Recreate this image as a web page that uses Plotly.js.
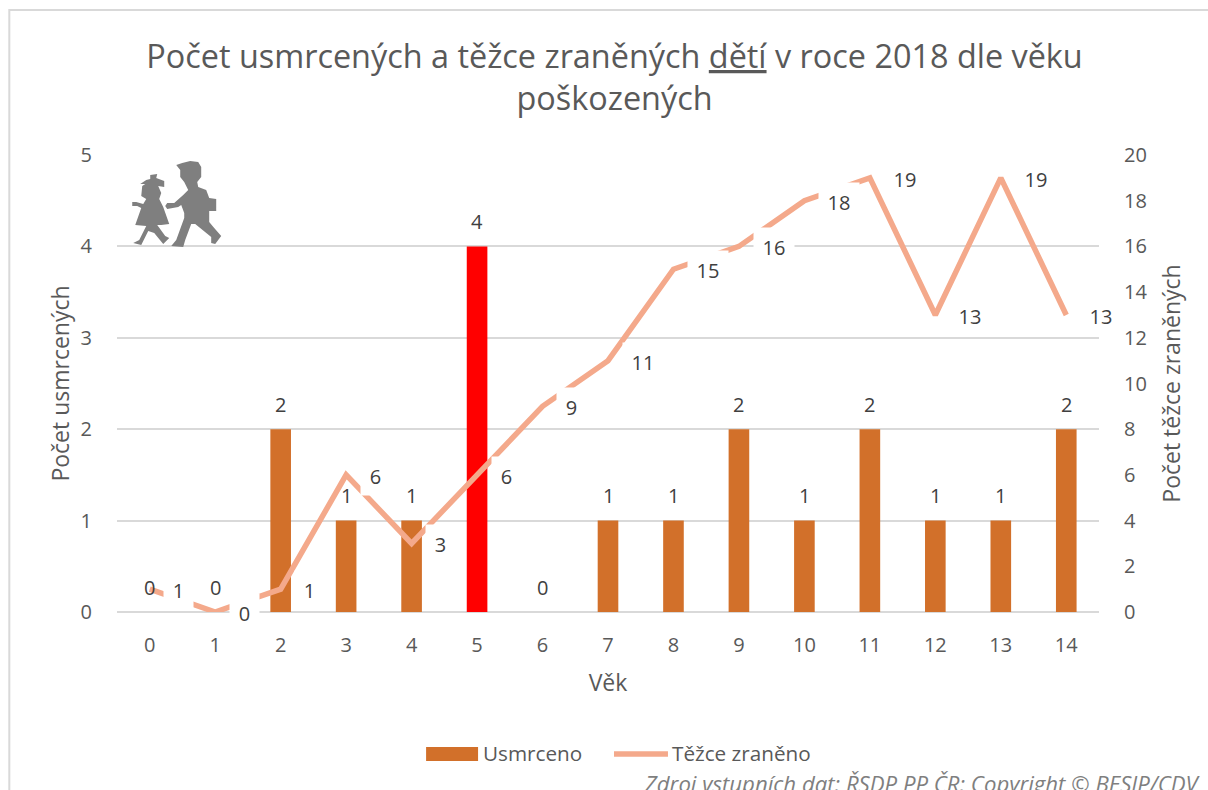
<!DOCTYPE html>
<html><head><meta charset="utf-8">
<script src="https://cdn.plot.ly/plotly-3.0.1.min.js"></script>
<style>html,body{margin:0;padding:0;background:#fff;overflow:hidden}#c{width:1208px;height:790px}</style>
</head><body><div id="c"></div>
<script>
const ages = [0,1,2,3,4,5,6,7,8,9,10,11,12,13,14];
const killed = [0,0,2,1,1,4,0,1,1,2,1,2,1,1,2];
const injured = [1,0,1,6,3,6,9,11,15,16,18,19,13,19,13];
const barColors = ['#D2702A','#D2702A','#D2702A','#D2702A','#D2702A','#FF0000','#D2702A','#D2702A','#D2702A','#D2702A','#D2702A','#D2702A','#D2702A','#D2702A','#D2702A'];
const W=1208,H=790,L=116.75,R=1099.25,T=155,B=612;
const FONT='"Open Sans", "Noto Sans", sans-serif';
const GREY='#595959', DARK='#404040';
const px=x=>(x-L)/(R-L), py=y=>(B-y)/(B-T);
function pathOf(pts){return 'M'+pts.map(p=>px(p[0]).toFixed(5)+','+py(p[1]).toFixed(5)).join('L')+'Z';}
// decorative pictogram outlines (page pixels)
const girl=[[146,180],[150,179],[150,175],[157,174],[156,178],[164,181],[164,187],[158,186],[161,193],[159,199],[163,207],[169,224],[161,225],[157,225],[165,236],[169,238],[163,244],[154,233],[148,231],[141,245],[133,243],[139,240],[146,226],[135,225],[141,208],[137,206],[132,206],[132,202],[136,202],[143,204],[146,199],[141,196],[142,186],[145,184],[140,184]];
const boy=[[176,165],[182,163],[190,161],[198,162],[201,167],[201,177],[197,182],[198,187],[206,190],[209,198],[216,199],[216,211],[209,211],[209,222],[214,228],[221,236],[215,244],[211,243],[211,237],[195,224],[191,224],[185,240],[183,247],[171,246],[176,240],[184,218],[184,213],[181,205],[178,207],[167,209],[165,206],[167,203],[174,203],[183,195],[188,190],[184,182],[180,177],[180,170]];

const ann=[];
ages.forEach((a,i)=>ann.push({x:a,y:killed[i],xref:'x',yref:'y',text:String(killed[i]),showarrow:false,yshift:25,
  font:{family:FONT,size:20,color:DARK},xanchor:'center',yanchor:'middle'}));
ages.forEach((a,i)=>ann.push({x:a,y:injured[i],xref:'x',yref:'y2',text:String(injured[i]),showarrow:false,
  xshift:injured[i]>9?35:29,yshift:-1,width:injured[i]>9?38:27,height:36,align:'center',valign:'middle',
  font:{family:FONT,size:20,color:DARK},bgcolor:'#FFFFFF',borderpad:1,xanchor:'center',yanchor:'middle'}));
ann.push({xref:'paper',yref:'paper',x:px(1203),y:py(783),xanchor:'right',yanchor:'middle',showarrow:false,
  text:'<i>Zdroj vstupních dat: ŘSDP PP ČR; Copyright © BESIP/CDV</i>',font:{family:FONT,size:22.2,color:'#7F7F7F'}});
ann.push({xref:'paper',yref:'paper',x:px(481),y:py(753),xanchor:'left',yanchor:'middle',showarrow:false,text:'Usmrceno',font:{family:FONT,size:20.7,color:GREY}});
ann.push({xref:'paper',yref:'paper',x:px(670),y:py(753),xanchor:'left',yanchor:'middle',showarrow:false,text:'Těžce zraněno',font:{family:FONT,size:20.7,color:GREY}});

const shapes=[
 {type:'rect',xref:'paper',yref:'paper',x0:px(9),x1:px(1230),y0:py(810),y1:py(10),line:{color:'#D9D9D9',width:2},fillcolor:'rgba(0,0,0,0)',layer:'below'},
 {type:'path',xref:'paper',yref:'paper',path:pathOf(girl),fillcolor:'#7F7F7F',line:{width:0}},
 {type:'path',xref:'paper',yref:'paper',path:pathOf(boy),fillcolor:'#7F7F7F',line:{width:0}},
 {type:'rect',xref:'paper',yref:'paper',x0:px(426),x1:px(478),y0:py(761),y1:py(747),fillcolor:'#D2702A',line:{width:0}},
 {type:'line',xref:'paper',yref:'paper',x0:px(614),x1:px(668),y0:py(754),y1:py(754),line:{color:'#F4A98B',width:5.5}}
];

Plotly.newPlot('c',[
 {type:'bar',name:'Usmrceno',x:ages,y:killed,marker:{color:barColors},width:0.315,yaxis:'y',hoverinfo:'x+y'},
 {type:'scatter',mode:'lines',name:'Těžce zraněno',x:ages,y:injured,yaxis:'y2',line:{color:'#F4A98B',width:5.5}}
],{
 width:W,height:H,showlegend:false,paper_bgcolor:'#fff',plot_bgcolor:'#fff',
 margin:{l:L,r:W-R,t:T,b:H-B,pad:0},
 title:{text:'Počet usmrcených a těžce zraněných <u>dětí</u> v roce 2018 dle věku<br>poškozených',
   font:{family:FONT,size:32.4,color:GREY},x:0.5087,xanchor:'center',xref:'container',y:1-68/H,yanchor:'middle',yref:'container'},
 xaxis:{range:[-0.5,14.5],tickmode:'array',tickvals:ages,ticktext:ages.map(String),showgrid:false,zeroline:false,showline:false,ticks:'outside',ticklen:15,tickcolor:'rgba(0,0,0,0)',
   tickfont:{family:FONT,size:20,color:GREY},title:{text:'Věk',font:{family:FONT,size:23,color:GREY},standoff:17}},
 yaxis:{range:[0,5],tickvals:[0,1,2,3,4,5],showgrid:true,gridcolor:'#D9D9D9',gridwidth:2,zeroline:true,zerolinecolor:'#D9D9D9',zerolinewidth:2,showline:false,ticks:'outside',ticklen:20,tickcolor:'rgba(0,0,0,0)',
   tickfont:{family:FONT,size:20,color:GREY},title:{text:'Počet usmrcených',font:{family:FONT,size:23,color:GREY},standoff:4}},
 yaxis2:{range:[0,20],tickvals:[0,2,4,6,8,10,12,14,16,18,20],overlaying:'y',side:'right',showgrid:false,zeroline:false,showline:false,ticks:'outside',ticklen:20,tickcolor:'rgba(0,0,0,0)',
   tickfont:{family:FONT,size:20,color:GREY},title:{text:'Počet těžce zraněných',font:{family:FONT,size:23,color:GREY},standoff:17}},
 annotations:ann,shapes:shapes
},{displayModeBar:false,staticPlot:true});
</script></body></html>
